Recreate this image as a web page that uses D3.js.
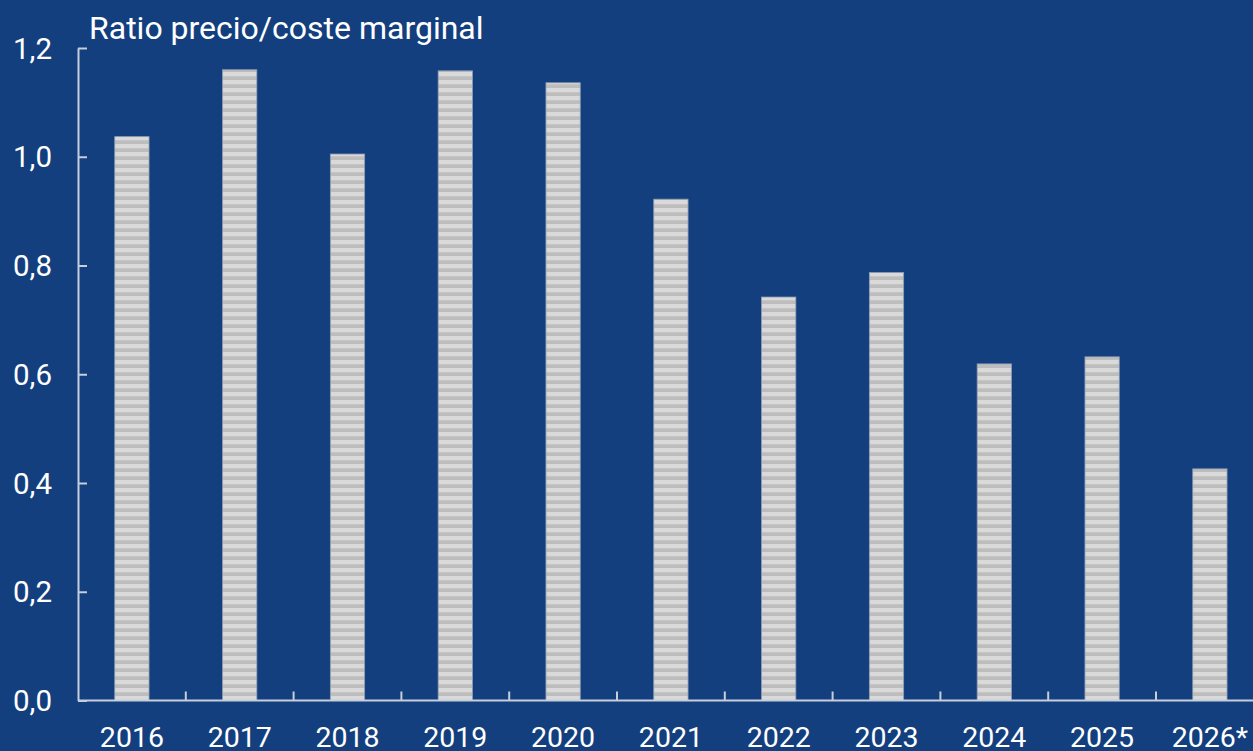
<!DOCTYPE html>
<html>
<head>
<meta charset="utf-8">
<script src="https://cdn.jsdelivr.net/npm/d3@7"></script>
<style>
  html, body { margin: 0; padding: 0; background: #143f7e; }
  svg { display: block; }
  text { font-family: Roboto, "Noto Sans", sans-serif; fill: #ffffff; }
</style>
</head>
<body>
<svg id="chart" width="1253" height="751"></svg>
<script>
// Annual price / marginal-cost ratio
const years = ["2016", "2017", "2018", "2019", "2020", "2021", "2022", "2023", "2024", "2025", "2026*"];
const ratios = [1.037, 1.160, 1.005, 1.158, 1.136, 0.922, 0.742, 0.787, 0.619, 0.632, 0.426];
const yTicks = [0, 0.2, 0.4, 0.6, 0.8, 1.0, 1.2];
const title = "Ratio precio/coste marginal";

const W = 1253, H = 751;
const margin = { left: 78, top: 48, bottom: 50 };
const plotRight = margin.left + 107.8 * years.length;

const svg = d3.select("#chart");

// Horizontal two-tone stripes used to fill the bars
const defs = svg.append("defs");
const pat = defs.append("pattern")
  .attr("id", "stripes")
  .attr("patternUnits", "userSpaceOnUse")
  .attr("width", 8).attr("height", 8);
pat.append("rect").attr("width", 8).attr("height", 8).attr("fill", "#bdbdbd");
pat.append("rect").attr("width", 8).attr("height", 4.3).attr("fill", "#d9d9d9");

const x = d3.scaleBand().domain(years).range([margin.left, plotRight]).paddingInner(0).paddingOuter(0);
const y = d3.scaleLinear().domain([0, 1.2]).range([700.5, margin.top]);

const barW = x.bandwidth() * 0.318;

svg.append("g").selectAll("rect")
  .data(years.map((yr, i) => ({ yr, v: ratios[i] })))
  .join("rect")
  .attr("x", d => x(d.yr) + (x.bandwidth() - barW) / 2)
  .attr("y", d => y(d.v))
  .attr("width", barW)
  .attr("height", d => y(0) - y(d.v))
  .attr("fill", "url(#stripes)")
  .attr("stroke", "#8f9fb6")
  .attr("stroke-width", 0.8);

const axisColor = "#c5cedb";

// Y axis: ticks point into the plot
const yAxis = svg.append("g")
  .attr("transform", `translate(${margin.left},0)`)
  .call(d3.axisRight(y).tickValues(yTicks).tickSize(9).tickSizeOuter(0).tickFormat(() => ""));
yAxis.select(".domain").attr("stroke", axisColor).attr("stroke-width", 2);
yAxis.selectAll(".tick line").attr("stroke", axisColor).attr("stroke-width", 2);

svg.append("g").selectAll("text")
  .data(yTicks)
  .join("text")
  .attr("x", 52)
  .attr("y", d => y(d))
  .attr("dy", "0.36em")
  .attr("text-anchor", "end")
  .attr("font-size", 29.5)
  .text(d => d3.format(".1f")(d).replace(".", ","));

// X axis: short upward ticks between categories
const xAxisY = y(0);
svg.append("line")
  .attr("x1", margin.left).attr("x2", W)
  .attr("y1", xAxisY).attr("y2", xAxisY)
  .attr("stroke", axisColor).attr("stroke-width", 2);

svg.append("g").selectAll("line")
  .data(years.slice(1))
  .join("line")
  .attr("x1", d => x(d)).attr("x2", d => x(d))
  .attr("y1", xAxisY).attr("y2", xAxisY - 9)
  .attr("stroke", axisColor).attr("stroke-width", 2);

svg.append("g").selectAll("text")
  .data(years)
  .join("text")
  .attr("x", d => x(d) + x.bandwidth() / 2)
  .attr("y", 747)
  .attr("text-anchor", "middle")
  .attr("font-size", 28.5)
  .text(d => d);

svg.append("text")
  .attr("x", 89)
  .attr("y", 39)
  .attr("font-size", 32)
  .text(title);
</script>
</body>
</html>
